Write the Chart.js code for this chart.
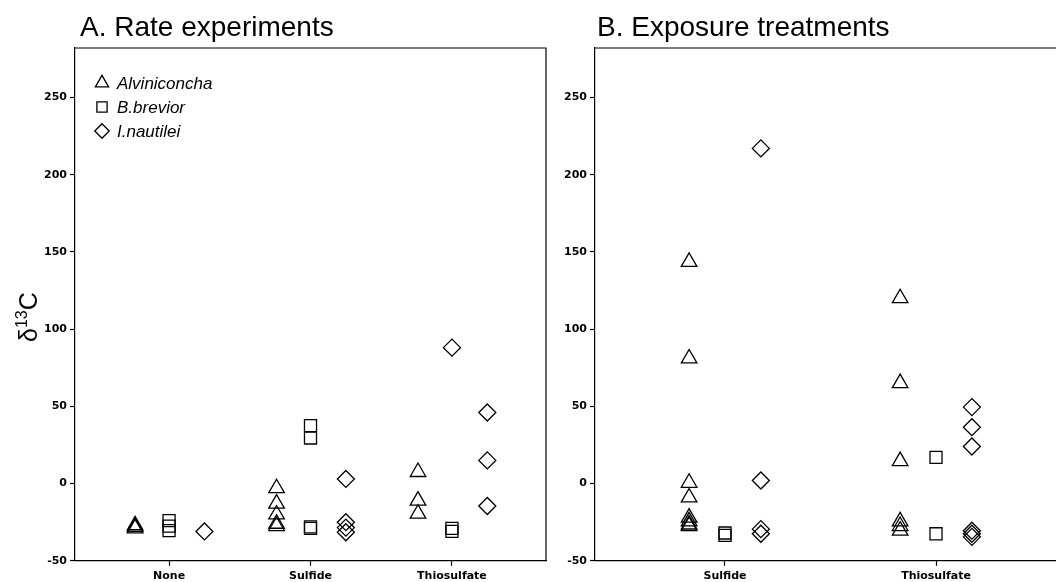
<!DOCTYPE html>
<html>
<head>
<meta charset="utf-8">
<script src="https://cdn.jsdelivr.net/npm/chart.js@4.4.1/dist/chart.umd.min.js"></script>
<style>
  html, body { margin: 0; padding: 0; background: #fff; overflow: hidden; }
  .panel { position: absolute; top: 0; width: 560px; height: 582px; }
  #panelA { left: 0; }
  #panelB { left: 520px; }
</style>
</head>
<body>
<div class="panel" id="panelA"><canvas id="rateChart"></canvas></div>
<div class="panel" id="panelB"><canvas id="exposureChart"></canvas></div>
<script>
const species = ['Alviniconcha', 'B.brevior', 'I.nautilei'];
const rateCategories = ['None', 'Sulfide', 'Thiosulfate'];
const exposureCategories = ['Sulfide', 'Thiosulfate'];
const yTicks = [-50, 0, 50, 100, 150, 200, 250];

// d13C values, one inner list per treatment
const rateAlviniconcha = [[-27, -28, -29], [-3, -13, -20, -26, -27.5], [7.5, -11, -19.5]];
const rateBrevior = [[-24, -27.5, -30.5], [37.5, 29.5, -28, -29], [-29, -31]];
const rateNautilei = [[-31], [3, -25, -28.5, -31.5], [46, 15, -14.5]];
const rateNautileiCentred = [[], [], [88]];  // plotted on the category line

const exposureAlviniconcha = [[143.5, 81, 0.5, -9, -22, -24.5, -26.5, -27.5], [120, 65, 14.5, -24.5, -27.5, -30.5]];
const exposureBrevior = [[-32, -33.5], [17, -32.5]];
const exposureNautilei = [[217, 2, -29.5, -32.5], [49.5, 36.5, 24, -30.5, -32.5, -34.5]];

const pointStyles = ['triangle', 'rect', 'rectRot'];
const pointRadii = [9, 8.5, 8.5];
const tickFont = { family: '"DejaVu Sans", sans-serif', size: 11, weight: 'bold' };

function toPoints(groups, offset) {
    return groups.flatMap((vals, i) => vals.map(v => ({ x: i + 1 + offset, y: v })));
}

function makeDataset(i, points) {
    return {
        label: species[i],
        data: points,
        pointStyle: pointStyles[i],
        pointRadius: pointRadii[i],
        borderColor: '#000',
        backgroundColor: 'rgba(0,0,0,0)',
        borderWidth: 1.3,
        showLine: false
    };
}

// frame, panel title, y label and legend
const panelDecor = {
    id: 'panelDecor',
    afterDraw(chart, args, opts) {
        const { ctx, chartArea: a } = chart;
        ctx.save();
        ctx.strokeStyle = '#000';
        ctx.lineWidth = 1.2;
        ctx.beginPath();
        ctx.moveTo(a.left, a.top);
        ctx.lineTo(a.right, a.top);
        ctx.lineTo(a.right, a.bottom);
        ctx.stroke();

        ctx.fillStyle = '#000';
        ctx.textBaseline = 'alphabetic';
        ctx.font = '28px "Liberation Sans", Arial, sans-serif';
        ctx.fillText(opts.title, opts.titleX, 36);

        if (opts.yLabel) {
            ctx.save();
            ctx.translate(37, 342);
            ctx.rotate(-Math.PI / 2);
            ctx.font = '25px "Liberation Sans", Arial, sans-serif';
            ctx.fillText('δ', 0, 0);
            let x = ctx.measureText('δ').width;
            ctx.font = '16px "Liberation Sans", Arial, sans-serif';
            ctx.fillText('13', x, -10);
            x += ctx.measureText('13').width;
            ctx.font = '25px "Liberation Sans", Arial, sans-serif';
            ctx.fillText('C', x, 0);
            ctx.restore();
        }

        if (opts.legend) {
            chart.data.datasets.forEach((ds, i) => {
                const y = 83 + i * 24;
                ctx.fillStyle = 'rgba(0,0,0,0)';
                ctx.strokeStyle = '#000';
                ctx.lineWidth = 1.3;
                Chart.helpers.drawPoint(ctx, { pointStyle: ds.pointStyle, radius: ds.pointRadius * 0.85, borderWidth: 1.3, rotation: 0 }, a.left + 27, y);
                ctx.fillStyle = '#000';
                ctx.textBaseline = 'middle';
                ctx.font = 'italic 17px "Liberation Sans", Arial, sans-serif';
                ctx.fillText(ds.label, a.left + 42, y + 1);
            });
        }
        ctx.restore();
    }
};

function makeOptions(cats, xMin, xMax, decor) {
    return {
        responsive: true,
        maintainAspectRatio: false,
        animation: false,
        events: [],
        layout: { padding: { top: 48, right: 14, left: 0, bottom: -5 } },
        scales: {
            x: {
                type: 'linear',
                min: xMin,
                max: xMax,
                afterBuildTicks: axis => { axis.ticks = cats.map((c, i) => ({ value: i + 1 })); },
                ticks: { callback: v => cats[v - 1], font: tickFont, color: '#000', padding: 4, maxRotation: 0, autoSkip: false },
                grid: { drawOnChartArea: false, color: '#000', tickLength: 5, tickWidth: 1.2 },
                border: { color: '#000', width: 1.2 }
            },
            y: {
                min: -50,
                max: 282,
                afterBuildTicks: axis => { axis.ticks = yTicks.map(v => ({ value: v })); },
                afterFit: axis => { axis.width = 75; },
                ticks: { font: tickFont, color: '#000', padding: 3 },
                grid: { drawOnChartArea: false, color: '#000', tickLength: 5, tickWidth: 1.2 },
                border: { color: '#000', width: 1.2 }
            }
        },
        plugins: {
            legend: { display: false },
            tooltip: { enabled: false },
            panelDecor: decor
        }
    };
}

new Chart(document.getElementById('rateChart'), {
    type: 'scatter',
    data: {
        datasets: [
            makeDataset(0, toPoints(rateAlviniconcha, -0.24)),
            makeDataset(1, toPoints(rateBrevior, 0)),
            makeDataset(2, toPoints(rateNautilei, 0.25).concat(toPoints(rateNautileiCentred, 0)))
        ]
    },
    options: makeOptions(rateCategories, 0.335, 3.665, { title: 'A. Rate experiments', titleX: 80, yLabel: true, legend: true }),
    plugins: [panelDecor]
});

new Chart(document.getElementById('exposureChart'), {
    type: 'scatter',
    data: {
        datasets: [
            makeDataset(0, toPoints(exposureAlviniconcha, -0.17)),
            makeDataset(1, toPoints(exposureBrevior, 0)),
            makeDataset(2, toPoints(exposureNautilei, 0.17))
        ]
    },
    options: makeOptions(exposureCategories, 0.384, 2.616, { title: 'B. Exposure treatments', titleX: 77, yLabel: false, legend: false }),
    plugins: [panelDecor]
});
</script>
</body>
</html>
